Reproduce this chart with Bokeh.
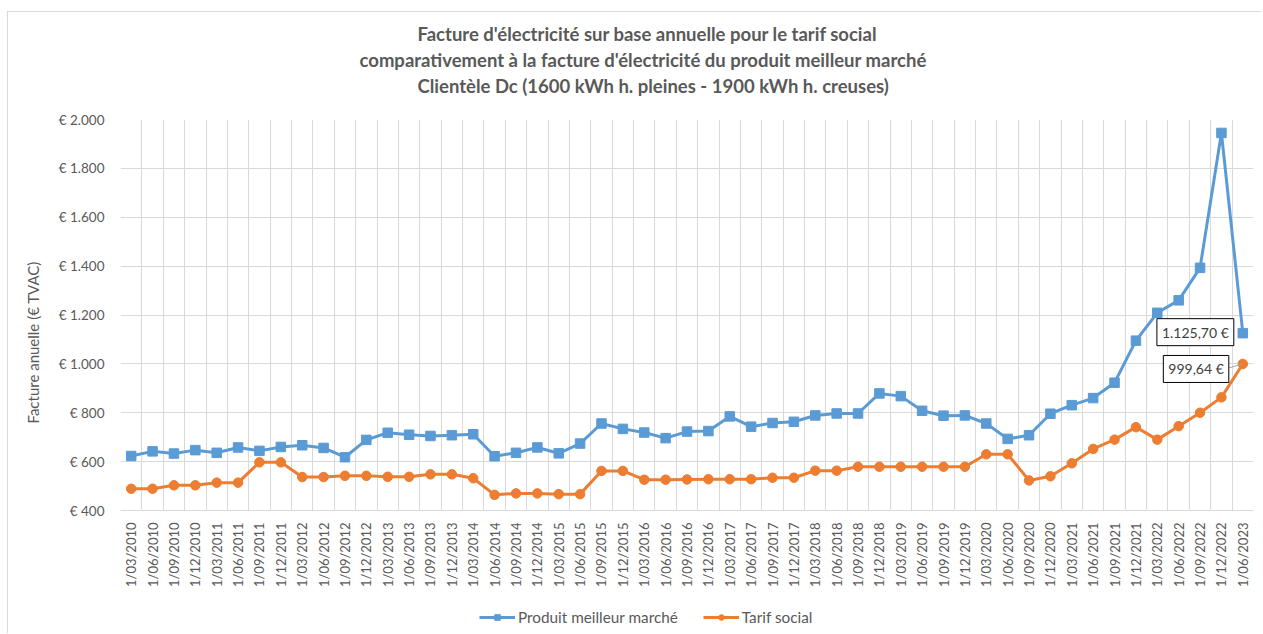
from bokeh.plotting import figure
from bokeh.layouts import column
from bokeh.models import (FixedTicker, Label, Legend, LegendItem, Range1d, Title)
from bokeh.embed import file_html
from bokeh.resources import INLINE

# ---------------- data ----------------
dates = ["1/03/2010", "1/06/2010", "1/09/2010", "1/12/2010",
         "1/03/2011", "1/06/2011", "1/09/2011", "1/12/2011",
         "1/03/2012", "1/06/2012", "1/09/2012", "1/12/2012",
         "1/03/2013", "1/06/2013", "1/09/2013", "1/12/2013",
         "1/03/2014", "1/06/2014", "1/09/2014", "1/12/2014",
         "1/03/2015", "1/06/2015", "1/09/2015", "1/12/2015",
         "1/03/2016", "1/06/2016", "1/09/2016", "1/12/2016",
         "1/03/2017", "1/06/2017", "1/09/2017", "1/12/2017",
         "1/03/2018", "1/06/2018", "1/09/2018", "1/12/2018",
         "1/03/2019", "1/06/2019", "1/09/2019", "1/12/2019",
         "1/03/2020", "1/06/2020", "1/09/2020", "1/12/2020",
         "1/03/2021", "1/06/2021", "1/09/2021", "1/12/2021",
         "1/03/2022", "1/06/2022", "1/09/2022", "1/12/2022",
         "1/06/2023"]

meilleur_marche = [623, 642, 633, 647, 636, 658, 644, 660, 667, 656,
                   618, 689, 718, 710, 705, 708, 712, 622, 636, 658,
                   634, 674, 756, 734, 719, 696, 723, 725, 785, 743,
                   758, 763, 789, 797, 797, 879, 868, 808, 788, 789,
                   756, 693, 708, 796, 831, 860, 923, 1095, 1209, 1260,
                   1393, 1945, 1125.70]

tarif_social = [489, 489, 503, 503, 514, 514, 597, 597, 537, 537,
                542, 542, 538, 538, 548, 548, 532, 464, 470, 470,
                467, 467, 562, 562, 526, 526, 527, 528, 528, 528,
                534, 534, 563, 563, 579, 579, 579, 579, 579, 579,
                630, 630, 523, 540, 593, 652, 690, 741, 690, 745,
                800, 863, 999.64]

y_ticks = [400, 600, 800, 1000, 1200, 1400, 1600, 1800, 2000]

title_lines = ["Facture d'électricité sur base annuelle pour le tarif social",
               "comparativement  à la facture d'électricité du produit meilleur marché",
               "Clientèle Dc (1600 kWh h. pleines - 1900 kWh h. creuses)"]
y_title = "Facture anuelle (€ TVAC)"
series_names = ["Produit meilleur marché", "Tarif social"]

# ---------------- style ----------------
FONT = "Lato"
TXT = "#595959"
GRID = "#D9D9D9"
BLUE = "#5B9BD5"
ORANGE = "#ED7D31"

n = len(dates)
xs = list(range(n))

p = figure(frame_width=1133, frame_height=391,
           min_border_left=112, min_border_right=8,
           min_border_top=107, min_border_bottom=88,
           x_range=Range1d(-0.5, n - 0.5), y_range=Range1d(y_ticks[0], y_ticks[-1]),
           output_backend="svg", toolbar_location=None)
p.outline_line_color = None
p.background_fill_color = "white"
p.border_fill_color = "white"

# x axis
p.xaxis.ticker = FixedTicker(ticks=xs)
p.xaxis.major_label_overrides = {i: d for i, d in enumerate(dates)}
p.xaxis.major_label_orientation = 3.14159265 / 2
p.xaxis.major_tick_line_color = None
p.xaxis.major_tick_out = 0
p.xaxis.minor_tick_out = 0
p.xaxis.minor_tick_line_color = None
p.xaxis.axis_line_color = GRID
p.xaxis.major_label_text_font = FONT
p.xaxis.major_label_text_font_size = "13px"
p.xaxis.major_label_text_color = TXT
p.xaxis.major_label_standoff = 12

# y axis
p.yaxis.ticker = FixedTicker(ticks=y_ticks)
p.yaxis.major_label_overrides = {v: "€ " + f"{v:,}".replace(",", ".") for v in y_ticks}
p.yaxis.major_tick_line_color = None
p.yaxis.major_tick_out = 0
p.yaxis.minor_tick_line_color = None
p.yaxis.axis_line_color = None
p.yaxis.major_label_text_font = FONT
p.yaxis.major_label_text_font_size = "13.5px"
p.yaxis.major_label_text_color = TXT
p.yaxis.major_label_standoff = 16

# y-axis title placed a bit below the vertical centre, as in the reference
p.add_layout(Title(text=y_title, align="left", offset=87,
                   text_font=FONT, text_font_size="15px", text_font_style="normal",
                   text_color=TXT, standoff=27), "left")

# grids
p.xgrid.ticker = FixedTicker(ticks=[i - 0.5 for i in range(n + 1)])
p.xgrid.grid_line_color = GRID
p.ygrid.grid_line_color = GRID

# series
line_kw = [dict(line_color=BLUE, line_width=3), dict(line_color=ORANGE, line_width=3)]
mark_kw = [dict(marker="square", size=9.5, fill_color=BLUE, line_color=BLUE),
           dict(marker="circle", size=9.5, fill_color=ORANGE, line_color=ORANGE)]
series = [meilleur_marche, tarif_social]
for vals, lk, mk in zip(series, line_kw, mark_kw):
    p.line(xs, vals, **lk)
    p.scatter(xs, vals, **mk)

# data labels for last points
def fmt(v):
    return f"{v:,.2f}".replace(",", " ").replace(".", ",").replace(" ", ".") + " €"

p.add_layout(Label(x=n - 1, y=meilleur_marche[-1], x_offset=-9, y_offset=1, text=fmt(meilleur_marche[-1]),
                   text_align="right", text_baseline="middle",
                   text_font=FONT, text_font_size="14px", text_color="#404040",
                   border_line_color="black", border_line_width=1,
                   background_fill_color="white", padding=5))
p.segment(x0=[n - 1 - 0.65], y0=[tarif_social[-1] - 16], x1=[n - 1], y1=[tarif_social[-1]],
          line_color="#A6A6A6", line_width=1)
p.add_layout(Label(x=n - 1, y=tarif_social[-1], x_offset=-14, y_offset=-5, text=fmt(tarif_social[-1]),
                   text_align="right", text_baseline="middle",
                   text_font=FONT, text_font_size="14px", text_color="#404040",
                   border_line_color="black", border_line_width=1,
                   background_fill_color="white", padding=5))

# title: a blank spacer next to the plot, then three stacked lines
p.add_layout(Title(text=" ", align="left", text_font=FONT, text_font_size="13px",
                   standoff=4), "above")
left_offsets = [297, 239, 297]
for i in (2, 1, 0):
    p.add_layout(Title(text=title_lines[i], align="left", offset=left_offsets[i],
                       text_font=FONT, text_font_size="18.5px", text_font_style="bold",
                       text_color=TXT, standoff=2), "above")

# legend: a thin strip figure below the chart, holding the same series
# (drawn outside its visible range) so the legend shows their styles
lf = figure(width=1253, height=35, min_border=0,
            x_range=Range1d(-2 * n, -n), y_range=Range1d(y_ticks[0], y_ticks[-1]),
            x_axis_type=None, y_axis_type=None,
            output_backend="svg", toolbar_location=None)
lf.outline_line_color = None
lf.xgrid.visible = False
lf.ygrid.visible = False
items = []
for name, vals, lk, mk in zip(series_names, series, line_kw, mark_kw):
    r1 = lf.line(xs, vals, **lk)
    r2 = lf.scatter(xs, vals, **mk)
    items.append(LegendItem(label=name, renderers=[r1, r2]))
legend = Legend(items=items, orientation="horizontal", location=(359, 7),
                label_text_font=FONT, label_text_font_size="15.3px", label_text_color=TXT,
                glyph_width=36, glyph_height=14, label_standoff=3, spacing=25,
                padding=4, margin=0, border_line_color=None, background_fill_alpha=0)
lf.add_layout(legend, "center")

layout = column(p, lf, spacing=0,
                styles={"margin-left": "7px", "margin-top": "11px",
                        "border-left": "1px solid #D9D9D9", "border-top": "1px solid #D9D9D9"})

open("out.html", "w").write(file_html(layout, INLINE))
